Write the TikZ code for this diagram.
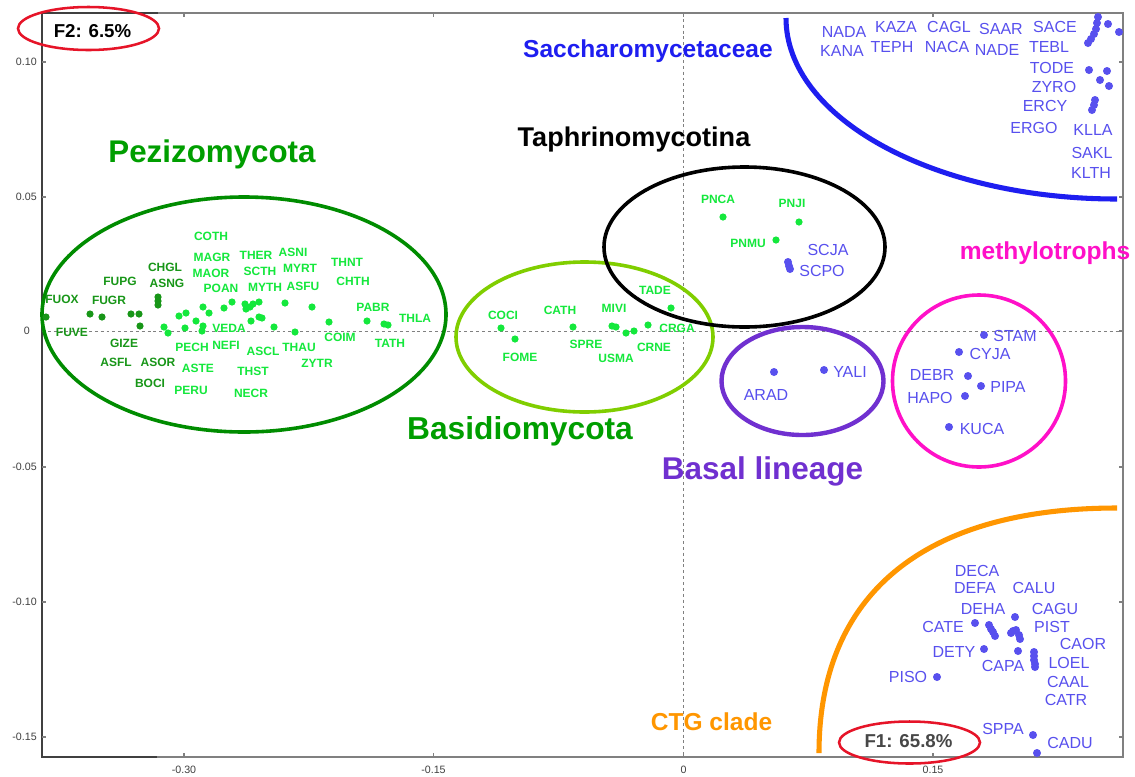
\documentclass[tikz,border=0pt]{standalone}
\usepackage{fontspec}
\setmainfont{Liberation Sans}
\definecolor{cblue}{RGB}{88,80,238}
\definecolor{cgreen}{RGB}{20,232,60}
\definecolor{cdgreen}{RGB}{24,150,24}
\definecolor{cpezT}{RGB}{0,158,0}
\definecolor{cpezE}{RGB}{0,140,0}
\definecolor{cbasE}{RGB}{128,206,0}
\definecolor{cbasal}{RGB}{112,48,208}
\definecolor{cmeth}{RGB}{255,16,200}
\definecolor{csac}{RGB}{30,30,240}
\definecolor{cctg}{RGB}{255,150,0}
\definecolor{cred}{RGB}{230,20,40}
\newcommand\mybdot[1]{\fill[cblue] (#1) circle[radius=4];}
\newcommand\mygdot[1]{\fill[cgreen] (#1) circle[radius=3.6];}
\newcommand\mydgdot[1]{\fill[cdgreen] (#1) circle[radius=3.6];}
\begin{document}
\begin{tikzpicture}[x=0.75pt,y=-0.75pt,
  blab/.style={text=cblue, font=\fontsize{12}{12}\selectfont, inner sep=0pt},
  glab/.style={text=cgreen, font=\bfseries\fontsize{9}{9}\selectfont, inner sep=0pt},
  dlab/.style={glab, text=cdgreen},
  ttl/.style={inner sep=0pt, anchor=base},
  ticklab/.style={text=black!75, font=\fontsize{8}{8}\selectfont, inner sep=0pt},
  zeroline/.style={gray, line width=0.6pt, dash pattern=on 2.2pt off 2.2pt},
  grp/.style={line width=2.7pt}]
\useasboundingbox (0,0) rectangle (1135,776);
\fill[white] (0,0) rectangle (1135,776);
% frame
\draw[gray, line width=0.9pt] (42,13) rectangle (1123,757);
\draw[black!75, line width=1pt] (158,13) -- (42,13) -- (42,757) -- (157,757);
\foreach \yy in {62,197,331,467,602,737}{
  \draw[gray, line width=0.8pt] (42,\yy) -- (46,\yy);
  \draw[gray, line width=0.8pt] (1123,\yy) -- (1119,\yy);}
\foreach \xx in {184,433.5,683.5,933}{
  \draw[gray, line width=0.8pt] (\xx,757) -- (\xx,753);
  \draw[gray, line width=0.8pt] (\xx,13) -- (\xx,17);}
\node[ticklab, anchor=east] (y1) at (37,62) {0.10};
\node[ticklab, anchor=east] (y2) at (37,197) {0.05};
\node[ticklab, anchor=east] (y3) at (30,331) {0};
\node[ticklab, anchor=east] (y4) at (37,467) {-0.05};
\node[ticklab, anchor=east] (y5) at (37,602) {-0.10};
\node[ticklab, anchor=east] (y6) at (37,737) {-0.15};
\node[ticklab] (x1) at (184,770) {-0.30};
\node[ticklab] (x2) at (433.5,770) {-0.15};
\node[ticklab] (x3) at (683.5,770) {0};
\node[ticklab] (x4) at (933,770) {0.15};
% zero lines
\draw[zeroline] (42,331) -- (1123,331);
\draw[zeroline] (683.5,13) -- (683.5,757);
% group outlines
\draw[grp, cpezE] (244,314.5) ellipse [x radius=202, y radius=117.5];
\draw[grp, cbasE] (584.5,337) ellipse [x radius=128.5, y radius=75];
\draw[grp, black] (744.5,247) ellipse [x radius=140.5, y radius=80];
\draw[grp, cbasal, line width=3.3pt] (802.5,381) ellipse [x radius=81, y radius=54];
\draw[grp, cmeth] (979,381) ellipse [x radius=86.5, y radius=86];
\draw[csac, line width=3.8pt] (786,18) .. controls (786,118) and (934,199) .. (1117,199);
\draw[cctg, line width=3.8pt] (819,753) .. controls (819,594) and (924,508) .. (1117,508);
% axis percentage labels
\draw[cred, line width=1.9pt] (88.5,28.5) ellipse [x radius=70.5, y radius=21.5];
\node[ttl, font=\bfseries\fontsize{14}{14}\selectfont] (f2) at (92.5,37) {F2: 6.5\%};
\draw[cred, line width=1.9pt] (909.5,742.5) ellipse [x radius=70.5, y radius=21];
\node[ttl, text=black!72, font=\bfseries\fontsize{14}{14}\selectfont] (f1) at (908.5,747) {F1: 65.8\%};
% group titles
\node[ttl, text=cpezT, font=\bfseries\fontsize{23.5}{24}\selectfont] (tPez) at (212,162) {Pezizomycota};
\node[ttl, text=cpezT, font=\bfseries\fontsize{23.8}{24}\selectfont] (tBas) at (520,439) {Basidiomycota};
\node[ttl, text=black, font=\bfseries\fontsize{20.3}{21}\selectfont] (tTap) at (634,146) {Taphrinomycotina};
\node[ttl, text=csac, font=\bfseries\fontsize{18.4}{19}\selectfont] (tSac) at (648,57) {Saccharomycetaceae};
\node[ttl, text=cmeth, font=\bfseries\fontsize{18.4}{19}\selectfont] (tMet) at (1045,259) {methylotrophs};
\node[ttl, text=cbasal, font=\bfseries\fontsize{23.6}{24}\selectfont] (tBal) at (762.5,479) {Basal lineage};
\node[ttl, text=cctg, font=\bfseries\fontsize{18.4}{19}\selectfont] (tCTG) at (711.5,730) {CTG clade};
% ---- blue points
\foreach \p in {{1098,17},{1097,23},{1096,29},{1094,34},{1091,39},{1088,43},{1108,24},{1119,32},
  {1089,70},{1107,71},{1100,80},{1109,86},{1095,100},{1094,105},{1092,110},
  {788,262},{789,266},{790,269},{774,372},{824,370},
  {984,335},{959,352},{968,376},{981,386},{965,396},{949,427},
  {975,623},{989,625},{991,629},{993,632},{995,636},{1015,617},{1011,633},{1016,630},{1019,635},{1020,639},{1013,631},
  {984,649},{1018,651},{1034,652},{1034,656},{1034,660},{1035,664},{1035,667},{937,677},{1033,735},{1037,753}}
  {\mybdot{\p}}
% ---- green points
\foreach \p in {{723,217},{799,222},{776,240},{671,308},
  {501,328},{515,339},{573,327},{612,326},{616,327},{626,333},{634,331},{648,325},
  {164,327},{168,333},{179,316},{186,313},{185,328},{196,321},{203,326},{202,331},{203,307},{209,313},
  {224,308},{232,302},{245,304},{246,309},{253,304},{259,302},{250,307},{251,321},{259,317},{262,318},
  {274,327},{285,303},{295,332},{312,307},{329,322},{367,321},{384,324},{388,325}}
  {\mygdot{\p}}
\foreach \p in {{46,317},{90,314},{102,317},{131,314},{139,314},{140,326},{158,297},{158,301},{158,305}}
  {\mydgdot{\p}}
% ---- blue labels
\node[blab] (NADA) at (844,32) {NADA};
\node[blab] (KAZA) at (896,27) {KAZA};
\node[blab] (CAGL) at (949,27) {CAGL};
\node[blab] (SAAR) at (1001,29) {SAAR};
\node[blab] (SACE) at (1055,27) {SACE};
\node[blab] (KANA) at (842,51) {KANA};
\node[blab] (TEPH) at (892,47) {TEPH};
\node[blab] (NACA) at (947,47) {NACA};
\node[blab] (NADE) at (997,50) {NADE};
\node[blab] (TEBL) at (1049,47) {TEBL};
\node[blab] (TODE) at (1052,68) {TODE};
\node[blab] (ZYRO) at (1054,87) {ZYRO};
\node[blab] (ERCY) at (1045,106) {ERCY};
\node[blab] (ERGO) at (1034,128) {ERGO};
\node[blab] (KLLA) at (1093,130) {KLLA};
\node[blab] (SAKL) at (1092,153) {SAKL};
\node[blab] (KLTH) at (1091,173) {KLTH};
\node[blab] (SCJA) at (828,250) {SCJA};
\node[blab] (SCPO) at (822,271) {SCPO};
\node[blab] (ARAD) at (766,395) {ARAD};
\node[blab] (YALI) at (850,372) {YALI};
\node[blab] (STAM) at (1015,336) {STAM};
\node[blab] (CYJA) at (990,354) {CYJA};
\node[blab] (DEBR) at (932,375) {DEBR};
\node[blab] (PIPA) at (1008,387) {PIPA};
\node[blab] (HAPO) at (930,398) {HAPO};
\node[blab] (KUCA) at (982,429) {KUCA};
\node[blab] (DECA) at (977,571) {DECA};
\node[blab] (DEFA) at (975,588) {DEFA};
\node[blab] (CALU) at (1034,588) {CALU};
\node[blab] (DEHA) at (983,609) {DEHA};
\node[blab] (CAGU) at (1055,609) {CAGU};
\node[blab] (CATE) at (943,627) {CATE};
\node[blab] (PIST) at (1052,627) {PIST};
\node[blab] (CAOR) at (1083,644) {CAOR};
\node[blab] (DETY) at (954,652) {DETY};
\node[blab] (CAPA) at (1003,666) {CAPA};
\node[blab] (LOEL) at (1069,663) {LOEL};
\node[blab] (PISO) at (908,677) {PISO};
\node[blab] (CAAL) at (1068,682) {CAAL};
\node[blab] (CATR) at (1066,700) {CATR};
\node[blab] (SPPA) at (1003,729) {SPPA};
\node[blab] (CADU) at (1070,743) {CADU};
% ---- green labels (Taphrinomycotina, Basidiomycota)
\node[glab] (PNCA) at (718,199) {PNCA};
\node[glab] (PNJI) at (792,203) {PNJI};
\node[glab] (PNMU) at (748,243) {PNMU};
\node[glab] (TADE) at (655,290) {TADE};
\node[glab] (COCI) at (503,315) {COCI};
\node[glab] (FOME) at (520,357) {FOME};
\node[glab] (CATH) at (560,310) {CATH};
\node[glab] (SPRE) at (586,344) {SPRE};
\node[glab] (MIVI) at (614,308) {MIVI};
\node[glab] (USMA) at (616,358) {USMA};
\node[glab] (CRNE) at (654,347) {CRNE};
\node[glab] (CRGA) at (677,328) {CRGA};
% ---- Pezizomycota labels
\node[glab] (COTH) at (211,236) {COTH};
\node[glab] (MAGR) at (212,257) {MAGR};
\node[glab] (THER) at (256,255) {THER};
\node[glab] (ASNI) at (293,252) {ASNI};
\node[dlab] (CHGL) at (165,267) {CHGL};
\node[glab] (MAOR) at (211,273) {MAOR};
\node[glab] (SCTH) at (260,271) {SCTH};
\node[glab] (MYRT) at (300,268) {MYRT};
\node[glab] (THNT) at (347,262) {THNT};
\node[dlab] (FUPG) at (120,281) {FUPG};
\node[dlab] (ASNG) at (167,283) {ASNG};
\node[glab] (POAN) at (221,288) {POAN};
\node[glab] (MYTH) at (265,287) {MYTH};
\node[glab] (ASFU) at (303,286) {ASFU};
\node[glab] (CHTH) at (353,281) {CHTH};
\node[dlab] (FUOX) at (62,299) {FUOX};
\node[dlab] (FUGR) at (109,300) {FUGR};
\node[glab] (PABR) at (373,307) {PABR};
\node[glab] (THLA) at (415,318) {THLA};
\node[dlab] (FUVE) at (72,332) {FUVE};
\node[glab] (VEDA) at (229,328) {VEDA};
\node[glab] (COIM) at (340,337) {COIM};
\node[dlab] (GIZE) at (124,343) {GIZE};
\node[glab] (PECH) at (192,347) {PECH};
\node[glab] (NEFI) at (226,345) {NEFI};
\node[glab] (ASCL) at (263,351) {ASCL};
\node[glab] (THAU) at (299,347) {THAU};
\node[glab] (TATH) at (390,343) {TATH};
\node[dlab] (ASFL) at (116,362) {ASFL};
\node[dlab] (ASOR) at (158,362) {ASOR};
\node[glab] (ASTE) at (198,368) {ASTE};
\node[glab] (ZYTR) at (317,363) {ZYTR};
\node[glab] (THST) at (253,371) {THST};
\node[dlab] (BOCI) at (150,383) {BOCI};
\node[glab] (PERU) at (191,390) {PERU};
\node[glab] (NECR) at (251,393) {NECR};
\end{tikzpicture}
\end{document}
